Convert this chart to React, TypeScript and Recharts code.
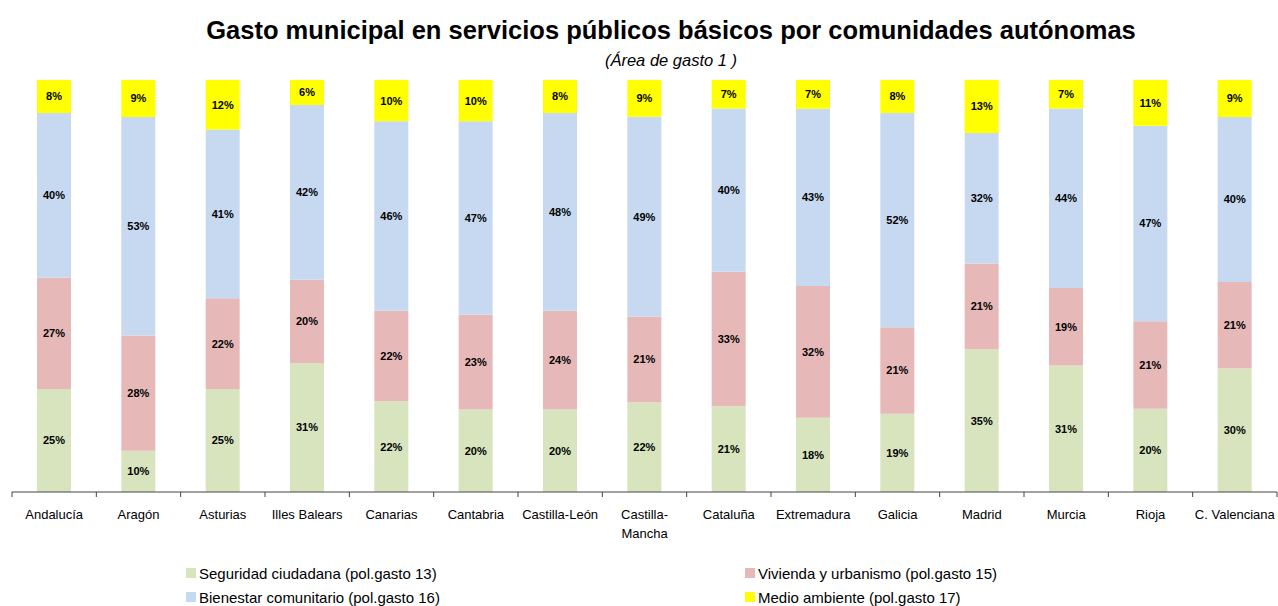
import React from "react";
import { BarChart, Bar, XAxis, YAxis, LabelList } from "recharts";

const categories = [
  "Andalucía", "Aragón", "Asturias", "Illes Balears", "Canarias", "Cantabria",
  "Castilla-León", "Castilla-Mancha", "Cataluña", "Extremadura", "Galicia",
  "Madrid", "Murcia", "Rioja", "C. Valenciana",
];
const seguridad = [25, 10, 25, 31, 22, 20, 20, 22, 21, 18, 19, 35, 31, 20, 30];
const vivienda = [27, 28, 22, 20, 22, 23, 24, 21, 33, 32, 21, 21, 19, 21, 21];
const bienestar = [40, 53, 41, 42, 46, 47, 48, 49, 40, 43, 52, 32, 44, 47, 40];
const medio = [8, 9, 12, 6, 10, 10, 8, 9, 7, 7, 8, 13, 7, 11, 9];

const seriesNames = {
  seguridad: "Seguridad ciudadana (pol.gasto 13)",
  vivienda: "Vivienda y urbanismo (pol.gasto 15)",
  bienestar: "Bienestar comunitario (pol.gasto 16)",
  medio: "Medio ambiente (pol.gasto 17)",
};
const colors = {
  seguridad: "#D7E4BD",
  vivienda: "#E6B9B8",
  bienestar: "#C6D9F1",
  medio: "#FFFF00",
};

const data = categories.map((c, i) => ({
  name: c,
  seguridad: seguridad[i],
  vivienda: vivienda[i],
  bienestar: bienestar[i],
  medio: medio[i],
}));

const W = 1278;
const H = 606;
const margin = { top: 80, right: 1, left: 12, bottom: 0 };
const band = (W - margin.left - margin.right) / categories.length;
const FONT = "'Liberation Sans', Arial, sans-serif";

const Tick = (props: any) => {
  const { x, y, payload, index } = props;
  const label: string = payload.value;
  const lines =
    label.length > 13 && label.includes("-")
      ? [label.slice(0, label.indexOf("-") + 1), label.slice(label.indexOf("-") + 1)]
      : [label];
  const axisY = y - 2;
  return (
    <g>
      <line x1={x - band / 2} x2={x - band / 2} y1={axisY} y2={axisY + 5} stroke="#444" strokeWidth={1} />
      {index === categories.length - 1 && (
        <line x1={x + band / 2} x2={x + band / 2} y1={axisY} y2={axisY + 5} stroke="#444" strokeWidth={1} />
      )}
      <text x={x} y={axisY + 27} textAnchor="middle" fontSize={13} fontFamily={FONT} fill="#000">
        {lines.map((l, i) => (
          <tspan key={i} x={x} dy={i === 0 ? 0 : 19}>{l}</tspan>
        ))}
      </text>
    </g>
  );
};

const fmt = (v: any) => `${v}%`;
const labelStyle = { fontSize: 11, fontWeight: 700, fontFamily: FONT, fill: "#000" };

const keys = ["seguridad", "vivienda", "bienestar", "medio"] as const;

const legendItems = [
  { key: "seguridad", x: 186, y: 573 },
  { key: "vivienda", x: 745, y: 573 },
  { key: "bienestar", x: 186, y: 597 },
  { key: "medio", x: 745, y: 597 },
] as const;

export default function App() {
  return (
    <div style={{ position: "absolute", left: 0, top: 0, width: W, height: H, background: "#fff", fontFamily: FONT }}>
      <div style={{ position: "absolute", left: 0, width: W, top: 12, textAlign: "center", paddingLeft: 64, boxSizing: "border-box", fontSize: 25.5, fontWeight: 700, lineHeight: "36px", color: "#000" }}>
        Gasto municipal en servicios públicos básicos por comunidades autónomas
      </div>
      <div style={{ position: "absolute", left: 0, width: W, top: 49, textAlign: "center", paddingLeft: 64, boxSizing: "border-box", fontSize: 16.5, fontStyle: "italic", lineHeight: "22px", color: "#000" }}>
        (Área de gasto 1 )
      </div>
      <div style={{ position: "absolute", left: 0, top: 0 }}>
        <BarChart width={W} height={H} data={data} margin={margin} stackOffset="expand">
          <XAxis
            dataKey="name"
            height={114}
            interval={0}
            tickLine={false}
            tickSize={0}
            axisLine={{ stroke: "#444", strokeWidth: 1 }}
            tick={<Tick />}
          />
          <YAxis hide domain={[0, 1]} />
          {keys.map((k) => (
            <Bar key={k} dataKey={k} stackId="a" fill={colors[k]} barSize={34} isAnimationActive={false}>
              <LabelList dataKey={k} position="center" formatter={fmt} style={labelStyle} />
            </Bar>
          ))}
        </BarChart>
      </div>
      {legendItems.map((it) => (
        <div key={it.key} style={{ position: "absolute", left: it.x, top: it.y - 10, height: 20, display: "flex", alignItems: "center", fontSize: 15, color: "#000", whiteSpace: "nowrap" }}>
          <span style={{ display: "inline-block", width: 10, height: 10, background: colors[it.key], marginRight: 3 }} />
          {seriesNames[it.key]}
        </div>
      ))}
    </div>
  );
}
